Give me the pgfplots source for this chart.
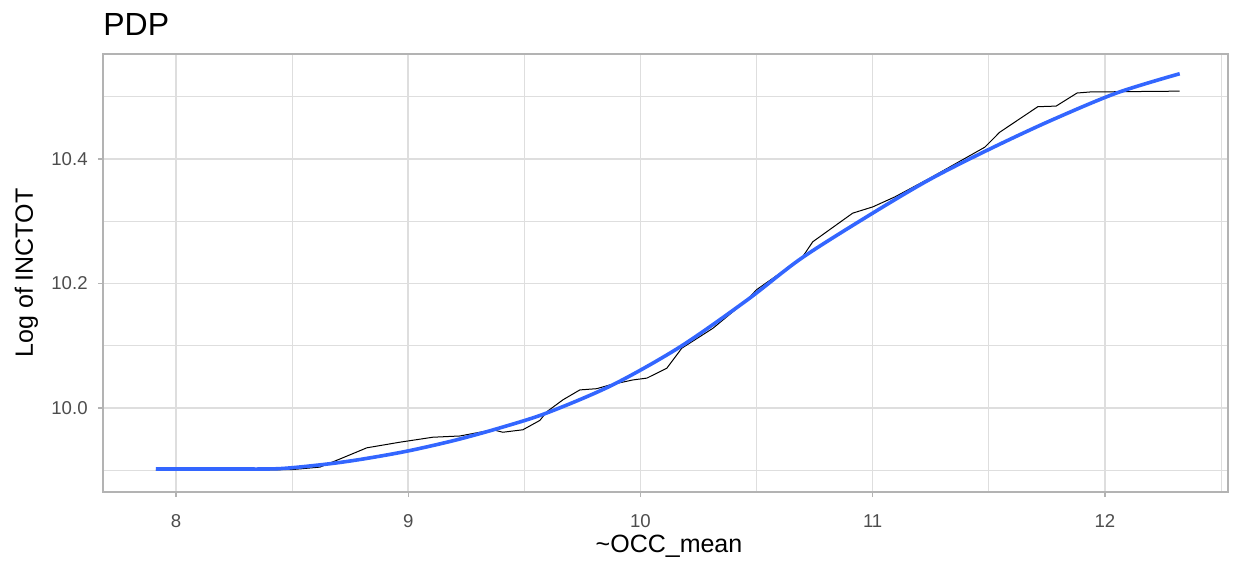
\documentclass[border=0pt]{standalone}
\usepackage{pgfplots}
\pgfplotsset{compat=1.18}
\usepackage{fontspec}
\setmainfont{Liberation Sans}
\definecolor{gridc}{HTML}{DEDEDE}
\definecolor{borderc}{HTML}{B3B3B3}
\definecolor{tickc}{HTML}{4D4D4D}
\definecolor{smoothc}{HTML}{3366FF}
\begin{document}
\begin{tikzpicture}
\begin{axis}[
  at={(0,0)}, anchor=south west,
  scale only axis, width=562.5pt, height=219pt,
  xmin=7.686, xmax=12.530, ymin=9.865, ymax=10.5687,
  xtick={8,9,10,11,12},
  minor xtick={8.5,9.5,10.5,11.5,12.5},
  ytick={10.0,10.2,10.4},
  minor ytick={9.9,10.1,10.3,10.5},
  yticklabels={10.0,10.2,10.4},
  xtick pos=bottom, ytick pos=left,
  grid=both,
  major grid style={gridc, line width=0.7pt},
  minor grid style={gridc, line width=0.45pt},
  axis line style={borderc, line width=0.6pt},
  tick align=outside,
  major tick length=2.5pt,
  minor tick length=0pt,
  every tick/.style={borderc, line width=0.6pt},
  tick label style={font=\fontsize{9.3pt}{11pt}\selectfont, text=tickc},
  xticklabel style={anchor=base, yshift=-15pt, inner sep=0pt},
  yticklabel style={anchor=east, inner sep=0pt, xshift=-5pt},
  /pgf/number format/assume math mode=true,
  clip=true,
]
\addplot[black, line width=0.5pt] coordinates {
(7.914,9.900) (8.3,9.900) (8.5,9.901) (8.62,9.905) (8.706,9.918) (8.822,9.936)
(8.964,9.945) (9.106,9.953) (9.223,9.955) (9.365,9.965) (9.408,9.961) (9.494,9.965)
(9.567,9.980) (9.597,9.994) (9.666,10.013) (9.739,10.029) (9.812,10.031) (9.868,10.037)
(9.967,10.045) (10.028,10.048) (10.114,10.064) (10.178,10.096) (10.312,10.128)
(10.458,10.173) (10.5,10.190) (10.695,10.241) (10.742,10.267) (10.914,10.313)
(11.0,10.323) (11.095,10.339) (11.25,10.370) (11.483,10.419) (11.547,10.443)
(11.711,10.484) (11.79,10.485) (11.88,10.506) (11.947,10.508) (12.03,10.508) (12.322,10.509)
};
\addplot[smoothc, line width=1.8pt, smooth] coordinates {
(7.914,9.902) (8.2,9.902) (8.4,9.902) (8.5,9.904) (8.676,9.911) (8.822,9.919)
(9.0,9.931) (9.2,9.948) (9.395,9.968) (9.597,9.992) (9.88,10.037) (10.17,10.098)
(10.458,10.173) (10.695,10.241) (11.0,10.313) (11.25,10.368) (11.504,10.416)
(11.762,10.461) (12.05,10.506) (12.322,10.537)
};
\end{axis}
\node[anchor=base west, inner sep=0pt, font=\fontsize{16pt}{19pt}\selectfont] at (0pt,228pt) {PDP};
\node[rotate=90, anchor=base, inner sep=0pt, font=\fontsize{12.5pt}{15pt}\selectfont] at (-35pt,109.5pt) {Log of INCTOT};
\node[anchor=base, inner sep=0pt, font=\fontsize{12.5pt}{15pt}\selectfont] at (283pt,-30pt) {\textasciitilde OCC\_mean};
\pgfresetboundingbox
\path[use as bounding box] (-51.5pt,-38pt) rectangle (566pt,246pt);
\end{tikzpicture}
\end{document}
